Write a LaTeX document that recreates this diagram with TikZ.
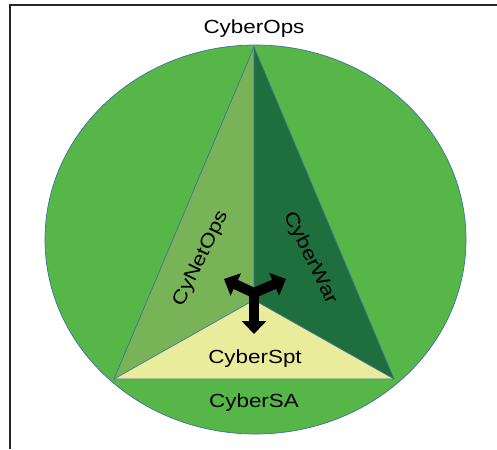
\documentclass[tikz,border=0pt]{standalone}
\usepackage{fontspec}
\setmainfont{Liberation Sans}[FakeStretch=1.18]
\usetikzlibrary{arrows.meta}
\definecolor{outerg}{HTML}{56B648}
\definecolor{leftg}{HTML}{79B357}
\definecolor{rightg}{HTML}{1E6E3E}
\definecolor{boty}{HTML}{E9EC9B}
\definecolor{edgeb}{HTML}{41719C}
\begin{document}
\begin{tikzpicture}[x=1pt,y=-1pt,
  lbl/.style={font=\fontsize{19}{21}\selectfont, inner sep=0pt, text=black},
  edge/.style={draw=edgeb, line width=0.7pt},
  arm/.style={line width=10pt, -{Triangle[width=24pt,length=13pt]}}]
\useasboundingbox (0,0) rectangle (497,449);
\draw[line width=2pt, black!85] (9.5,449) -- (9.5,5) -- (497,5);
\draw[edge, fill=outerg] (255.5,239.5) ellipse [x radius=210.5, y radius=194.5];
\coordinate (A) at (254,47);
\coordinate (L) at (114,379);
\coordinate (R) at (394,379);
\coordinate (M) at (254,300);
\fill[leftg] (A) -- (M) -- (L) -- cycle;
\fill[rightg] (A) -- (R) -- (M) -- cycle;
\fill[boty] (L) -- (M) -- (R) -- cycle;
\draw[edge, line join=miter] (A) -- (L) -- (R) -- cycle;
\draw[edge] (A) -- (M) (L) -- (M) -- (R);
\coordinate (J) at (254,293);
\coordinate (T1) at (224,279);
\coordinate (T2) at (286,279);
\coordinate (T3) at (254,334);
\draw[arm] (J) -- (T1);
\draw[arm] (J) -- (T2);
\draw[arm] (J) -- (T3);
\fill (J) circle [radius=5];
\node[lbl, anchor=base] (ops) at (254,34) {CyberOps};
\node[lbl, anchor=base] (spt) at (255,363) {CyberSpt};
\node[lbl, anchor=base] (sa) at (254,407) {CyberSA};
\node[lbl, rotate=64] (net) at (201,259) {CyNetOps};
\node[lbl, rotate=-64] (war) at (310,258) {CyberWar};
\end{tikzpicture}
\end{document}
